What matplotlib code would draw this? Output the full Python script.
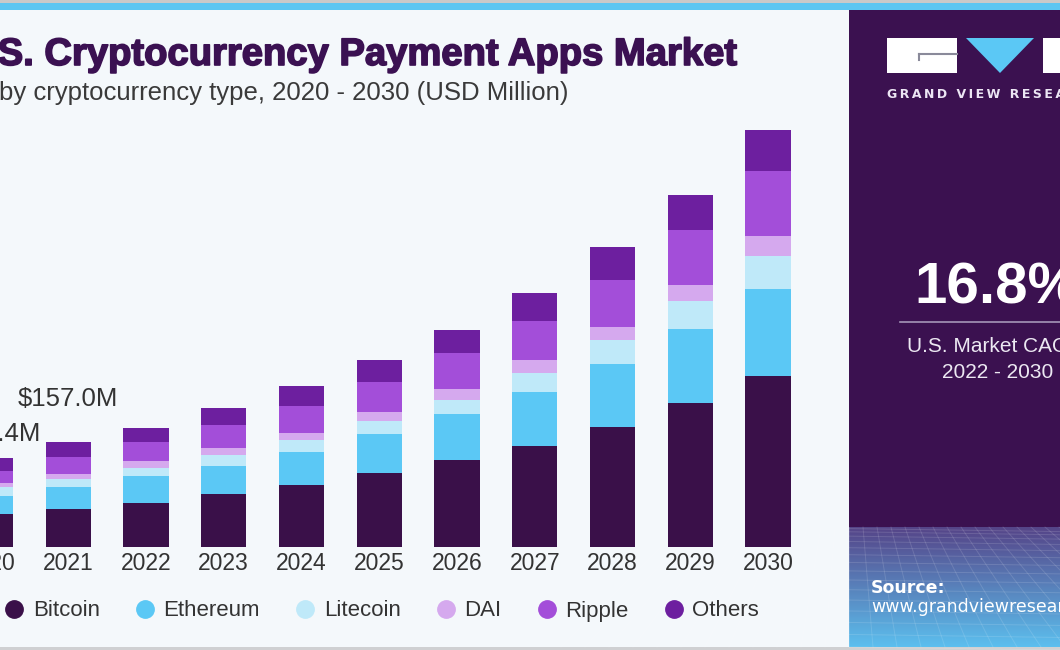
import numpy as np
import matplotlib
matplotlib.use("Agg")
import matplotlib.pyplot as plt
import matplotlib.patheffects as pe
from matplotlib.patches import Rectangle, Polygon
from matplotlib.lines import Line2D

# ---------------- data (USD Million) ----------------
years = [2020, 2021, 2022, 2023, 2024, 2025, 2026, 2027, 2028, 2029, 2030]
segments = ["Bitcoin", "Ethereum", "Litecoin", "DAI", "Ripple", "Others"]
bitcoin  = [49.0, 57.5, 65.5, 79.5, 93.5, 110.5, 130.0, 152.0, 180.5, 216.5, 256.5]
ethereum = [28.0, 33.0, 41.0, 42.5, 48.6, 58.5, 69.0, 81.0, 94.5, 110.5, 131.0]
litecoin = [12.5, 11.5, 12.5, 16.0, 18.5, 20.0, 21.5, 28.5, 35.5, 42.0, 49.5]
dai      = [6.0, 7.0, 10.5, 10.5, 11.0, 13.5, 17.0, 18.6, 20.0, 23.5, 29.5]
ripple   = [19.0, 26.4, 28.5, 34.5, 40.0, 45.0, 54.0, 59.4, 70.0, 83.0, 97.5]
others   = [18.9, 21.6, 21.0, 25.0, 30.0, 33.0, 34.0, 41.1, 49.0, 52.0, 61.5]
labeled_years = [2020, 2021]
cagr_text = "16.8%"

colors = ["#3a1049", "#5bc8f5", "#bfe9f9", "#d5a9ee", "#a34ed9", "#6d1f9f"]

W, H = 1060, 650
def fx(x): return x / W
def fy(y): return 1 - y / H

fig = plt.figure(figsize=(W / 100, H / 100), dpi=100)
fig.patch.set_facecolor("#f4f8fb")

# ---------------- background decoration ----------------
bg = fig.add_axes([0, 0, 1, 1], zorder=0)
bg.set_xlim(0, W); bg.set_ylim(H, 0); bg.axis("off")
bg.add_patch(Rectangle((0, 0), W, 2.5, color="#c9c9c9", lw=0))
bg.add_patch(Rectangle((0, 2.5), W, 7.5, color="#5cc6f2", lw=0))
bg.add_patch(Rectangle((0, 646.5), W, 4, color="#cfd0d2", lw=0))
bg.add_patch(Rectangle((849, 10), W - 849, 637, color="#3b1150", lw=0))
# gradient at bottom of panel
grad = np.linspace(0, 1, 120)[:, None]
c0 = np.array([0x55, 0x44, 0x88]) / 255
c1 = np.array([0x5c, 0xbf, 0xee]) / 255
img = c0[None, None, :] * (1 - grad[..., None]) + c1[None, None, :] * grad[..., None]
img = np.repeat(img, 2, axis=1)
bg.imshow(img, extent=(849, W, 647, 527), aspect="auto", zorder=1)
# faint perspective grid
for k in range(-12, 30):
    xs = np.array([849 + k * 14, 849 + k * 24])
    bg.plot(xs, [527, 647], color="white", alpha=0.13, lw=0.7, zorder=2)
for j in range(1, 16):
    yy = 527 + 120 * (j / 15) ** 1.6
    bg.plot([849, W], [yy, yy + 3], color="white", alpha=0.13, lw=0.7, zorder=2)

# logo
bg.add_patch(Rectangle((887, 38), 70, 35, color="white", lw=0, zorder=3))
bg.plot([919, 957], [54, 54], color="#8a8a9a", lw=1.5, zorder=4)
bg.plot([919, 919], [54, 60], color="#8a8a9a", lw=1.5, zorder=4)
bg.add_patch(Polygon([(966, 38), (1034, 38), (1000, 73)], closed=True,
                     color="#5bc8f5", lw=0, zorder=3))
bg.add_patch(Rectangle((1043, 38), 40, 35, color="white", lw=0, zorder=3))
bg.text(887, 94, "\u2009".join("GRAND VIEW RESEARCH"), color="#ece6f4",
        fontsize=9, fontweight="bold", family="DejaVu Sans",
        ha="left", va="center", zorder=4)

bg.text(997, 289, cagr_text, color="white", fontsize=42, fontweight="bold",
        family="Liberation Sans", ha="center", va="center", zorder=4)
bg.plot([900, W], [322, 322], color="#a596b8", lw=1.2, zorder=4)
bg.text(998, 346, "U.S. Market CAGR,", color="#ece8f2", fontsize=15,
        family="Liberation Sans", ha="center", va="center", zorder=4)
bg.text(998, 372, "2022 - 2030", color="#ece8f2", fontsize=15,
        family="Liberation Sans", ha="center", va="center", zorder=4)
bg.text(871, 588, "Source:", color="white", fontsize=12.5, fontweight="bold",
        family="DejaVu Sans", ha="left", va="center", zorder=4)
bg.text(871, 607, "www.grandviewresearch.com", color="white", fontsize=12.5,
        family="DejaVu Sans", ha="left", va="center", zorder=4)

# titles
bg.text(738, 65, "U.S. Cryptocurrency Payment Apps Market", color="#3b1152",
        fontsize=27.5, fontweight="bold", family="Liberation Sans",
        ha="right", va="baseline", zorder=4,
        path_effects=[pe.withStroke(linewidth=1.2, foreground="#3b1152")])
bg.text(-1, 93, "by cryptocurrency type, 2020 - 2030 (USD Million)",
        color="#3a3a3a", fontsize=18.5, family="Liberation Sans",
        ha="left", va="center", zorder=4)

# ---------------- chart ----------------
base_px, top_px = 547, 10
ax = fig.add_axes([0, fy(base_px), fx(848), (base_px - top_px) / H], zorder=2)
ax.patch.set_alpha(0)
spacing = 77.75
first_center = -9.5
x0 = (0 - first_center) / spacing
x1 = (848 - first_center) / spacing
ax.set_xlim(x0, x1)
ax.set_ylim(0, (base_px - top_px) * 1.5)
ax.axis("off")

idx = np.arange(len(years))
series = [bitcoin, ethereum, litecoin, dai, ripple, others]
bottom = np.zeros(len(years))
for name, vals, col in zip(segments, series, colors):
    vals = np.array(vals)
    ax.bar(idx, vals, bottom=bottom, width=0.58, color=col, label=name,
           linewidth=0, zorder=3)
    bottom += vals
totals = bottom

for i, y in enumerate(years):
    ax.text(i, -24, str(y), ha="center", va="center", fontsize=16.5,
            color="#333333", family="Liberation Sans", clip_on=False)

label_offsets_px = {2020: 113, 2021: 148}
for y in labeled_years:
    i = years.index(y)
    ax.text(i, label_offsets_px[y] * 1.5, f"${totals[i]:.1f}M", ha="center",
            va="center", fontsize=18.5, color="#333333",
            family="Liberation Sans", clip_on=False)

handles = [Line2D([], [], marker="o", linestyle="none", markersize=12.5,
                  markerfacecolor=c, markeredgecolor=c) for c in colors]
leg = fig.legend(handles, segments, loc="center left",
                 bbox_to_anchor=(fx(5), fy(611)), ncol=6, frameon=False,
                 borderpad=0, borderaxespad=0, handlelength=0.8,
                 handletextpad=0.45, columnspacing=1.62,
                 prop={"family": "Liberation Sans", "size": 16})
for t in leg.get_texts():
    t.set_color("#333333")

fig.savefig("out.png", dpi=100, facecolor=fig.get_facecolor())
